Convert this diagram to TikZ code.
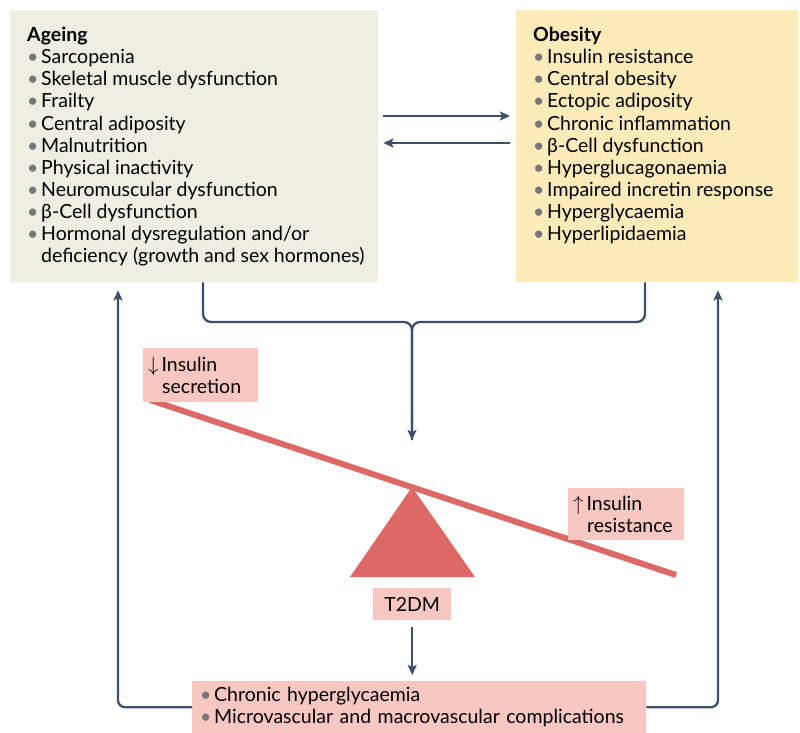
\documentclass[tikz,border=0pt]{standalone}
\usepackage{fontspec}
\setmainfont{Lato}
\usetikzlibrary{arrows.meta,positioning}
\definecolor{agefill}{HTML}{EFEEE3}
\definecolor{obefill}{HTML}{FDEBBA}
\definecolor{flowblue}{HTML}{3E4F6E}
\definecolor{pinkfill}{HTML}{F9C7C2}
\definecolor{seesawred}{HTML}{DC6966}
\definecolor{bulgray}{HTML}{777777}
\newcommand{\bul}{\makebox[14pt][l]{\textcolor{bulgray}{\textbullet}}}
\newcommand{\cont}{\hspace*{14pt}}
\tikzset{
  panel/.style={anchor=north west, inner sep=0pt},
  listtext/.style={anchor=north west, align=left, inner sep=0pt,
    font=\fontsize{19.5}{22.1}\selectfont},
  flow/.style={draw=flowblue, line width=2.3pt, -{Stealth[length=10pt,width=9pt,inset=2pt]}},
  pinkbox/.style={fill=pinkfill, anchor=north west, inner xsep=5pt, inner ysep=3pt,
    align=left, font=\fontsize{19.5}{21.5}\selectfont},
  beam/.style={draw=seesawred, line width=6pt}
}
\begin{document}
\begin{tikzpicture}[x=1pt, y=-1pt]
  \useasboundingbox (0,0) rectangle (800,733);
  % the two risk boxes
  \node[panel, fill=agefill, minimum width=368pt, minimum height=272pt] (ageing) at (10,10) {};
  \node[panel, fill=obefill, minimum width=282pt, minimum height=272pt] (obesity) at (516,10) {};
  \node[listtext] (agetext) at (27,27) {\textbf{Ageing}\\
    \bul Sarcopenia\\
    \bul Skeletal muscle dysfunction\\
    \bul Frailty\\
    \bul Central adiposity\\
    \bul Malnutrition\\
    \bul Physical inactivity\\
    \bul Neuromuscular dysfunction\\
    \bul β-Cell dysfunction\\
    \bul Hormonal dysregulation and/or\\
    \cont deficiency (growth and sex hormones)};
  \node[listtext] (obetext) at (533,27) {\textbf{Obesity}\\
    \bul Insulin resistance\\
    \bul Central obesity\\
    \bul Ectopic adiposity\\
    \bul Chronic inflammation\\
    \bul β-Cell dysfunction\\
    \bul Hyperglucagonaemia\\
    \bul Impaired incretin response\\
    \bul Hyperglycaemia\\
    \bul Hyperlipidaemia};
  \draw[flow] ([shift={(5pt,-106pt)}]ageing.north east) -- ([shift={(-6pt,-106pt)}]obesity.north west);
  \draw[flow] ([shift={(-6pt,-133pt)}]obesity.north west) -- ([shift={(5pt,-133pt)}]ageing.north east);

  % merge into the seesaw
  \coordinate (merge) at (412,322);
  \coordinate (beamtop) at (412,440);
  \draw[flow, -, rounded corners=8pt] ([xshift=193pt]ageing.south west) |- (merge) -- (beamtop);
  \draw[flow, rounded corners=8pt] ([xshift=129pt]obesity.south west) |- (merge) -- (beamtop);

  % seesaw
  \coordinate (beamleft) at (150,400);
  \coordinate (beamright) at (676,575);
  \draw[beam] (beamleft) -- (beamright);
  \fill[seesawred] (412,487) -- (475,577) -- (350,577) -- cycle;
  \node[pinkbox, text width=105pt, minimum height=54pt] (secretion) at (143,348)
    {$\downarrow$\hspace{3pt}Insulin\\ \hspace*{14pt}secretion};
  \node[pinkbox, text width=106pt, minimum height=52pt] (resistance) at (568,488)
    {$\uparrow$\hspace{3pt}Insulin\\ \hspace*{14pt}resistance};
  \node[pinkbox, align=center, minimum width=78pt, minimum height=32pt] (t2dm) at (373,588) {T2DM};

  % consequences
  \node[pinkbox, text width=438pt, minimum height=52pt, inner xsep=8pt, inner ysep=2pt,
    font=\fontsize{19.5}{22.5}\selectfont] (outcome) at (192,681)
    {\bul Chronic hyperglycaemia\\
     \bul Microvascular and macrovascular complications};
  \draw[flow] ([yshift=-7pt]t2dm.south) -- ([yshift=6pt]outcome.north -| t2dm.south);
  \draw[flow, rounded corners=7pt] (outcome.west) -| ([shift={(108pt,-8pt)}]ageing.south west);
  \draw[flow, rounded corners=7pt] (outcome.east) -| ([shift={(202pt,-8pt)}]obesity.south west);
\end{tikzpicture}
\end{document}
